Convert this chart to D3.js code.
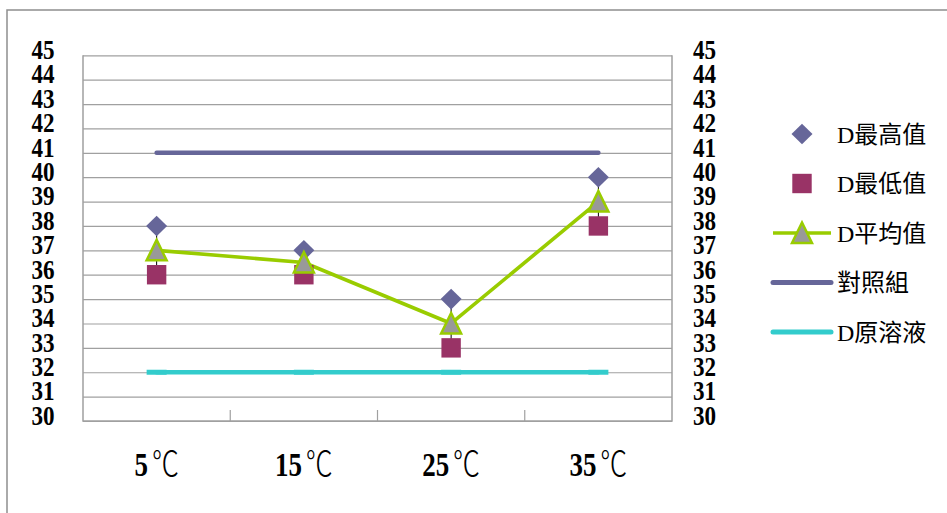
<!DOCTYPE html>
<html>
<head>
<meta charset="utf-8">
<script src="https://cdn.jsdelivr.net/npm/d3@7/dist/d3.min.js"></script>
<style>
  html, body { margin: 0; padding: 0; background: #fff; }
  svg { display: block; }
</style>
</head>
<body>
<svg id="chart" width="947" height="513"></svg>
<script>
// Temperature categories and measured series
const categories = ["5℃", "15℃", "25℃", "35℃"];
const dMax  = [38, 37, 35, 40];      // D最高值
const dMin  = [36, 36, 33, 38];      // D最低值
const dMean = [37, 36.5, 34, 39];    // D平均值
const control = [41, 41, 41, 41];   // 對照組
const stock   = [32, 32, 32, 32];   // D原溶液
const yTicks = [30, 31, 32, 33, 34, 35, 36, 37, 38, 39, 40, 41, 42, 43, 44, 45];
const seriesNames = ["D最高值", "D最低值", "D平均值", "對照組", "D原溶液"];

const colors = {
  max: "#666699", min: "#993366", mean: "#99CC00", meanFill: "#999999",
  control: "#666699", stock: "#33CCCC", grid: "#a0a0a0", frame: "#8f8f8f"
};
const serif = "'Liberation Serif', 'Noto Sans CJK TC', serif";

const svg = d3.select("#chart");
const plot = { left: 83, right: 672, top: 55.3, bottom: 421 };

const x = d3.scaleBand().domain(categories).range([plot.left, plot.right]).padding(0);
const y = d3.scaleLinear().domain([30, 45]).range([plot.bottom, plot.top]);
const cx = (c) => x(c) + x.bandwidth() / 2;

// Outer chart frame (top and left edges)
svg.append("path")
  .attr("d", "M7,513 L7,10 L947,10")
  .attr("fill", "none").attr("stroke", colors.frame).attr("stroke-width", 1.5);

// Horizontal gridlines
svg.append("g")
  .attr("transform", `translate(${plot.left},0)`)
  .call(d3.axisLeft(y).tickValues(yTicks).tickSize(-(plot.right - plot.left)).tickFormat(""))
  .call(g => g.select(".domain").remove())
  .call(g => g.selectAll("line").attr("stroke", colors.grid).attr("stroke-width", 1.2));

// Plot border: left, bottom, right
svg.append("path")
  .attr("d", `M${plot.left},${plot.top} L${plot.left},${plot.bottom} L${plot.right},${plot.bottom} L${plot.right},${plot.top}`)
  .attr("fill", "none").attr("stroke", colors.grid).attr("stroke-width", 1.5);

// Category boundary ticks on the bottom axis (pointing inward)
svg.append("g").selectAll("line")
  .data(categories.slice(1))
  .join("line")
  .attr("x1", d => x(d)).attr("x2", d => x(d))
  .attr("y1", plot.bottom).attr("y2", plot.bottom - 11)
  .attr("stroke", colors.grid).attr("stroke-width", 1.2);

// Y axis labels on both sides (tall, tightly stacked numerals)
function styleYLabels(g, anchor) {
  g.select(".domain").remove();
  g.selectAll(".tick line").remove();
  g.selectAll("text")
    .attr("font-family", serif).attr("font-size", 22).attr("font-weight", "bold")
    .attr("fill", "#000").attr("text-anchor", anchor)
    .attr("dy", null)
    .attr("y", 0)
    .attr("transform", "translate(0,3.3) scale(1.05,1.2)");
}
svg.append("g")
  .attr("transform", `translate(${plot.left},0)`)
  .call(d3.axisLeft(y).tickValues(yTicks).tickSize(0).tickPadding(27).tickFormat(d3.format("d")))
  .call(g => styleYLabels(g, "end"));
svg.append("g")
  .attr("transform", `translate(${plot.right},0)`)
  .call(d3.axisRight(y).tickValues(yTicks).tickSize(0).tickPadding(20).tickFormat(d3.format("d")))
  .call(g => styleYLabels(g, "start"));

// X axis category labels: bold number + degree sign
const xAxis = svg.append("g")
  .attr("transform", `translate(0,${plot.bottom})`)
  .call(d3.axisBottom(x).tickSize(0).tickFormat(""));
xAxis.select(".domain").remove();
xAxis.selectAll(".tick").each(function(d) {
  const m = d.match(/^(\d+)(.*)$/);
  const t = d3.select(this).select("text")
    .attr("y", 0).attr("dy", null)
    .attr("text-anchor", "middle")
    .attr("transform", "translate(0,54.5) scale(1,1.25)")
    .attr("fill", "#000");
  t.text(null);
  t.append("tspan").attr("font-family", serif).attr("font-weight", "bold")
    .attr("font-size", 27).text(m[1]);
  t.append("tspan").attr("font-family", "'Noto Sans CJK TC', sans-serif")
    .attr("font-weight", 300).attr("font-size", 27).attr("dx", 4).text(m[2]);
});

// Reference lines: control and stock solution
const line = d3.line().x((d, i) => cx(categories[i])).y(d => y(d));
svg.append("path").datum(control)
  .attr("d", line).attr("fill", "none")
  .attr("stroke", colors.control).attr("stroke-width", 4.5).attr("stroke-linecap", "round");
svg.append("path").datum(stock)
  .attr("d", line).attr("fill", "none")
  .attr("stroke", colors.stock).attr("stroke-width", 4.5).attr("stroke-linecap", "round");
svg.append("g").selectAll("rect")
  .data(stock)
  .join("rect")
  .attr("x", (d, i) => cx(categories[i]) - 10).attr("y", d => y(d) - 2.5)
  .attr("width", 20).attr("height", 5).attr("fill", colors.stock);

// High-low lines
svg.append("g").selectAll("line")
  .data(categories)
  .join("line")
  .attr("x1", d => cx(d)).attr("x2", d => cx(d))
  .attr("y1", (d, i) => y(dMax[i])).attr("y2", (d, i) => y(dMin[i]))
  .attr("stroke", "#000").attr("stroke-width", 1);

// Mean line
svg.append("path").datum(dMean)
  .attr("d", line).attr("fill", "none")
  .attr("stroke", colors.mean).attr("stroke-width", 3.6).attr("stroke-linejoin", "round");

// Marker shapes
const diamondPath = "M0,-10.3 L10.5,0 L0,10.3 L-10.5,0Z";
const trianglePath = "M0,-10.5 L10,10 L-10,10Z";

svg.append("g").selectAll("path")
  .data(dMax)
  .join("path")
  .attr("d", diamondPath)
  .attr("transform", (d, i) => `translate(${cx(categories[i])},${y(d)})`)
  .attr("fill", colors.max);

svg.append("g").selectAll("rect")
  .data(dMin)
  .join("rect")
  .attr("x", (d, i) => cx(categories[i]) - 9.7).attr("y", d => y(d) - 9.7)
  .attr("width", 19.4).attr("height", 19.4)
  .attr("fill", colors.min);

svg.append("g").selectAll("path")
  .data(dMean)
  .join("path")
  .attr("d", trianglePath)
  .attr("transform", (d, i) => `translate(${cx(categories[i])},${y(d)})`)
  .attr("fill", colors.meanFill).attr("stroke", colors.mean).attr("stroke-width", 2.5)
  .attr("stroke-linejoin", "miter");

// Legend
const legendY = d3.scalePoint().domain(seriesNames).range([134, 332]);
const legend = svg.append("g");
const markerX = 802;
legend.append("path").attr("d", diamondPath)
  .attr("transform", `translate(${markerX},${legendY(seriesNames[0])})`).attr("fill", colors.max);
legend.append("rect")
  .attr("x", markerX - 9.7).attr("y", legendY(seriesNames[1]) - 9.7)
  .attr("width", 19.4).attr("height", 19.4).attr("fill", colors.min);
const lineItems = [
  { name: seriesNames[2], color: colors.mean, w: 3.6, cap: "butt" },
  { name: seriesNames[3], color: colors.control, w: 5, cap: "round" },
  { name: seriesNames[4], color: colors.stock, w: 5, cap: "round" }
];
lineItems.forEach(it => {
  legend.append("line")
    .attr("x1", 773).attr("x2", 831)
    .attr("y1", legendY(it.name)).attr("y2", legendY(it.name))
    .attr("stroke", it.color).attr("stroke-width", it.w).attr("stroke-linecap", it.cap);
});
legend.append("path").attr("d", trianglePath)
  .attr("transform", `translate(${markerX},${legendY(seriesNames[2])})`)
  .attr("fill", colors.meanFill).attr("stroke", colors.mean).attr("stroke-width", 2.5);
legend.selectAll("text.lab")
  .data(seriesNames)
  .join("text")
  .attr("class", "lab")
  .attr("x", 837).attr("y", d => legendY(d) + 8.5)
  .attr("font-family", serif).attr("font-size", 24).attr("fill", "#000")
  .text(d => d);
</script>
</body>
</html>
